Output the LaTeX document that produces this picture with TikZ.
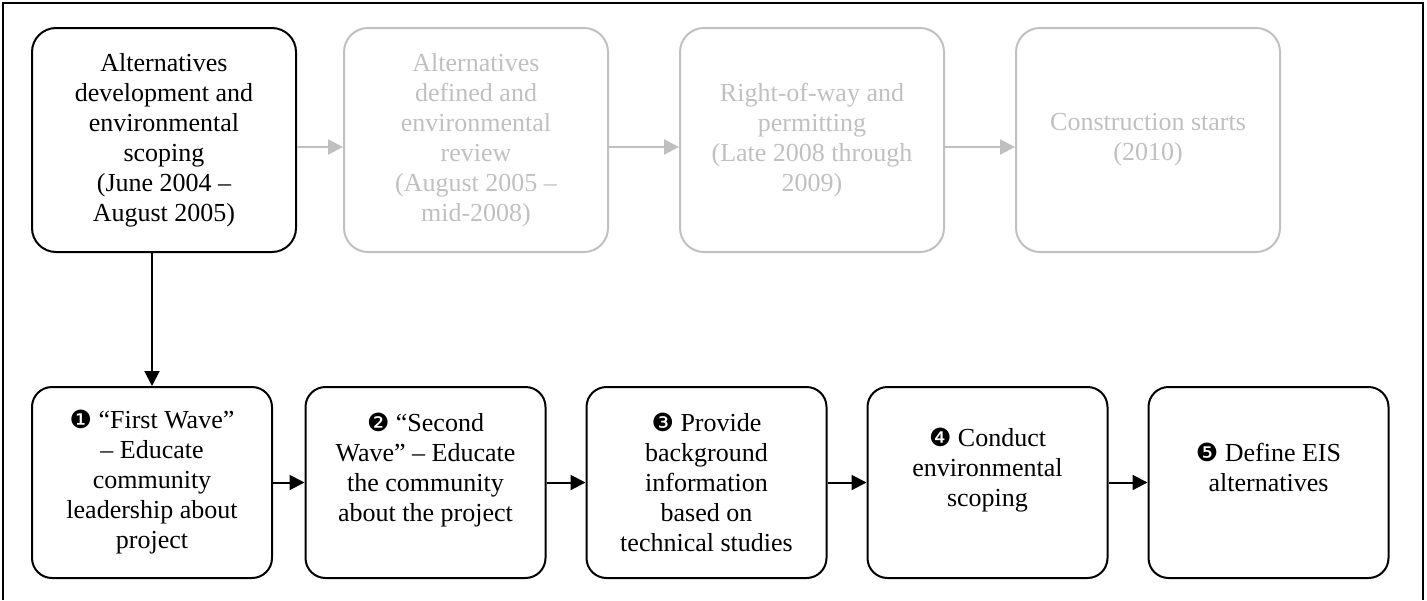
\documentclass[tikz,border=0pt]{standalone}
\usepackage{fontspec}
\setmainfont{Liberation Serif}
\newfontfamily\dingfont{DejaVu Sans}
\usetikzlibrary{positioning,arrows.meta}
\definecolor{stagegrey}{HTML}{C0C0C0}
\newcommand{\stepno}[1]{{\dingfont\fontsize{12.5}{15}\selectfont #1}}
\tikzset{
  stage/.style={draw, rounded corners=12pt, line width=1pt, minimum width=132pt, minimum height=112pt, align=center, inner sep=0pt},
  later/.style={stage, draw=stagegrey, text=stagegrey},
  task/.style={draw, rounded corners=10pt, line width=1pt, minimum width=120pt, minimum height=95.5pt, align=center, inner sep=0pt},
  flow/.style={-{Triangle[length=7.5pt,width=7.5pt]}, line width=1pt},
}
\begin{document}
\begin{tikzpicture}[x=0.5pt, y=-0.5pt, node distance=168pt, every node/.style={font=\fontsize{13}{15}\selectfont}]
\useasboundingbox (0,0) rectangle (1427,600);
\draw[line width=1pt] (3,600) -- (3,3) -- (1423,3) -- (1423,600);

\node (t1) [stage] at (164,140) {Alternatives\\development and\\environmental\\scoping\\(June 2004 --\\August 2005)};
\node (t2) [later, right of=t1, xshift=-12pt] {Alternatives\\defined and\\environmental\\review\\(August 2005 --\\mid-2008)};
\node (t3) [later, right of=t2] {Right-of-way and\\permitting\\(Late 2008 through\\2009)};
\node (t4) [later, right of=t3] {Construction starts\\(2010)};

\node (b1) [task, node distance=171.25pt, below of=t1, xshift=-6pt] {\stepno{❶} “First Wave”\\-- Educate\\community\\leadership about\\project};
\node (b2) [task, node distance=140.5pt, right of=b1, xshift=-3.75pt] {\stepno{❷} “Second\\Wave” -- Educate\\the community\\about the project\\\mbox{}};
\node (b3) [task, node distance=140.5pt, right of=b2] {\stepno{❸} Provide\\background\\information\\based on\\technical studies};
\node (b4) [task, node distance=140.5pt, right of=b3] {\stepno{❹} Conduct\\environmental\\scoping\\\mbox{}};
\node (b5) [task, node distance=140.5pt, right of=b4] {\stepno{❺} Define EIS\\alternatives\\\mbox{}};

\draw[flow, draw=stagegrey] ([yshift=-3.5pt]t1.east) -- ([yshift=-3.5pt]t2.west);
\draw[flow, draw=stagegrey] ([yshift=-3.5pt]t2.east) -- ([yshift=-3.5pt]t3.west);
\draw[flow, draw=stagegrey] ([yshift=-3.5pt]t3.east) -- ([yshift=-3.5pt]t4.west);

\draw[flow] (t1.south -| b1) -- (b1);
\draw[flow] (b1) -- (b2);
\draw[flow] (b2) -- (b3);
\draw[flow] (b3) -- (b4);
\draw[flow] (b4) -- (b5);
\end{tikzpicture}
\end{document}
